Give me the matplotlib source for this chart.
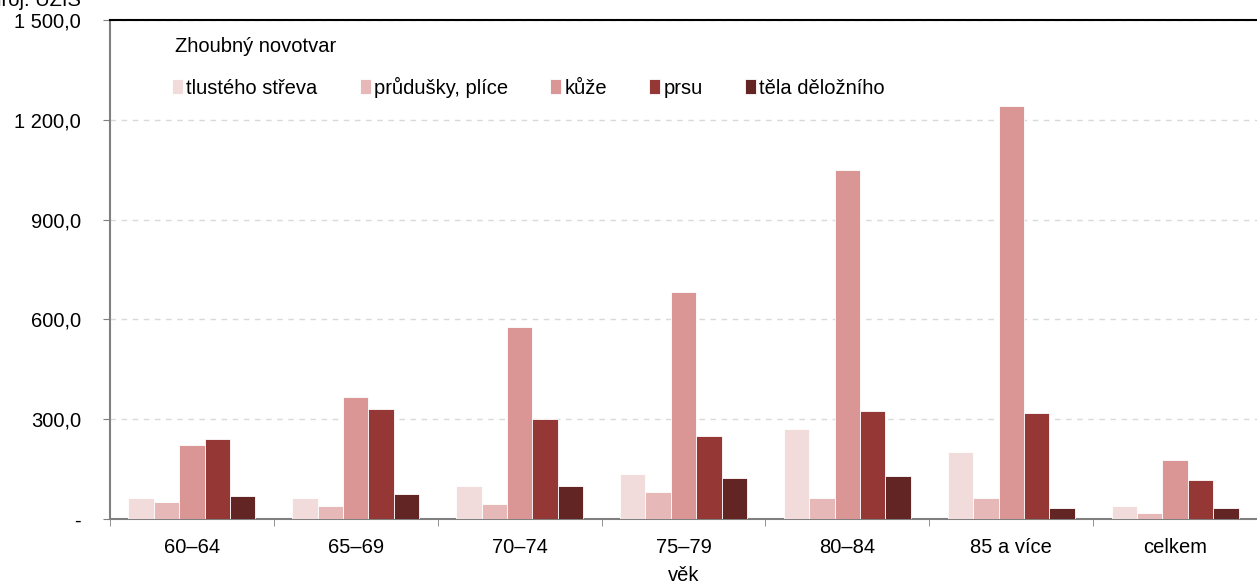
import matplotlib.pyplot as plt
import numpy as np
from matplotlib.ticker import FuncFormatter

plt.rcParams['font.family'] = ['Liberation Sans', 'DejaVu Sans']
plt.rcParams['font.size'] = 14.5

# data
groups = ['60–64', '65–69', '70–74', '75–79', '80–84', '85 a více', 'celkem']
series = ['tlustého střeva', 'průdušky, plíce', 'kůže', 'prsu', 'těla děložního']
tlusteho = [62, 62, 100, 135, 272, 200, 40]
prudusky = [50, 40, 45, 80, 62, 62, 17]
kuze = [222, 366, 576, 682, 1050, 1240, 177]
prsu = [240, 332, 302, 248, 326, 318, 118]
tela = [68, 74, 100, 122, 128, 34, 34]
colors = ['#F2DCDB', '#E6B9B8', '#D99694', '#953735', '#632523']


def fmt(v, pos):
    if v == 0:
        return '-'
    s = '{:,.1f}'.format(v)
    return s.replace(',', ' ').replace('.', ',')


W, H = 1257, 583
fig = plt.figure(figsize=(W / 100, H / 100), dpi=100)
ax = fig.add_axes([110 / W, 1 - 519 / H, 1147 / W, 499 / H])

x = np.arange(len(groups))
w = 0.155
values = [tlusteho, prudusky, kuze, prsu, tela]
for i, vals in enumerate(values):
    ax.bar(x + (i - 2) * w, vals, width=w, color=colors[i],
           edgecolor='white', linewidth=0.6, label=series[i], zorder=3)

ax.set_xlim(-0.5, len(groups) - 0.5)
ax.set_ylim(0, 1500)
ax.set_yticks([0, 300, 600, 900, 1200, 1500])
ax.yaxis.set_major_formatter(FuncFormatter(fmt))
ax.yaxis.grid(True, linestyle=(0, (4, 4)), color='#D9D9D9', linewidth=1, zorder=0)
ax.set_xticks(x)
ax.set_xticklabels(groups)
ax.set_xticks(np.arange(len(groups) + 1) - 0.5, minor=True)
ax.tick_params(axis='x', which='major', length=0, pad=14)
ax.tick_params(axis='x', which='minor', length=5, color='#808080', direction='out')
ax.tick_params(axis='y', length=5, color='#808080', pad=16)

for side in ['left', 'bottom']:
    ax.spines[side].set_color('#808080')
    ax.spines[side].set_linewidth(1.5)
ax.spines['top'].set_color('black')
ax.spines['top'].set_linewidth(1.5)
ax.spines['right'].set_visible(False)

ax.set_xlabel('věk', labelpad=6)

# legend
fig.text(175 / W, 1 - 46 / H, 'Zhoubný novotvar', va='center', ha='left')
fig.legend(loc='center left', bbox_to_anchor=(172 / W, 1 - 87 / H), ncol=5,
           frameon=False, handlelength=0.55, handleheight=0.75, handletextpad=0.15,
           columnspacing=2.1, borderpad=0, borderaxespad=0)

fig.text(-22 / W, 1 + 1 / H, 'Zdroj: ÚZIS', va='center', ha='left')

fig.savefig('out.png', dpi=100)
